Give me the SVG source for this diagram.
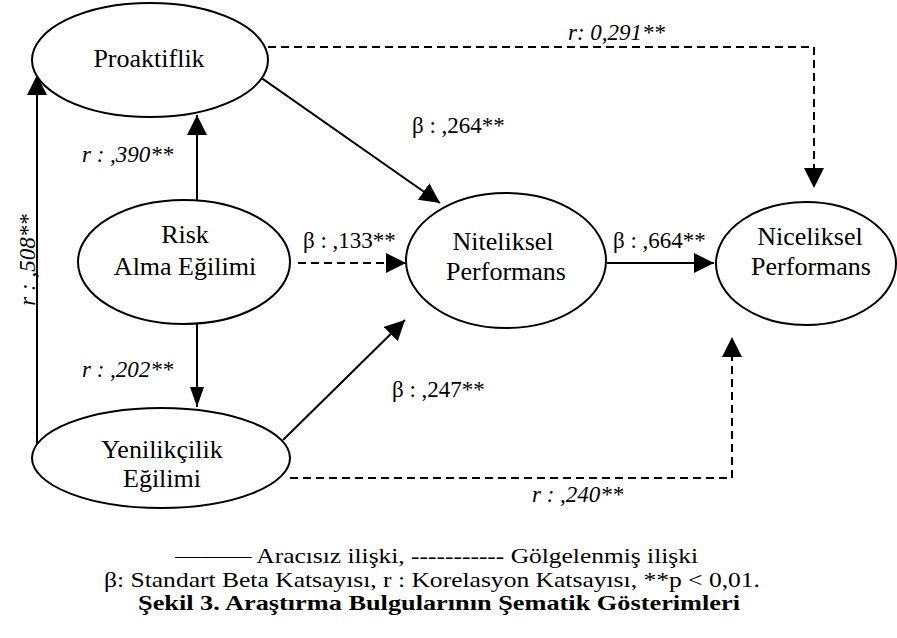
<svg xmlns="http://www.w3.org/2000/svg" width="897" height="638" viewBox="0 0 897 638">
<style>
.node ellipse{fill:#fff;stroke:#000;stroke-width:2}
.nt{font-family:"Liberation Serif","Times New Roman",serif;font-size:26px;text-anchor:middle;fill:#000}
.c{fill:none;stroke:#000;stroke-width:2}
.d{stroke-dasharray:8,5}
.lb{font-family:"Liberation Serif","Times New Roman",serif;font-size:23px;fill:#000}
.it{font-style:italic}
.lg{font-family:"Liberation Serif","Times New Roman",serif;font-size:21px;fill:#000}
</style>
<defs>
<marker id="ah" markerUnits="userSpaceOnUse" markerWidth="20" markerHeight="20" refX="20" refY="10" orient="auto">
<path d="M0,0 L20,10 L0,20 z" fill="#000"/>
</marker>
<marker id="ahs" markerUnits="userSpaceOnUse" markerWidth="20" markerHeight="14" refX="20" refY="7" orient="auto">
<path d="M0,0 L20,7 L0,14 z" fill="#000"/>
</marker>
</defs>
<g id="connectors">
<path class="c d" d="M268,47 H814 V188" marker-end="url(#ah)"/>
<path class="c" d="M243,65 L440,203" marker-end="url(#ah)"/>
<path class="c d" d="M298,263 H406" marker-end="url(#ah)"/>
<path class="c" d="M607,263 H714" marker-end="url(#ah)"/>
<path class="c" d="M283,440 L405,320" marker-end="url(#ah)"/>
<path class="c d" d="M290,478 H732 V337" marker-end="url(#ah)"/>
<path class="c" d="M197,200 V115" marker-end="url(#ah)"/>
<path class="c" d="M197,324 V407" marker-end="url(#ahs)"/>
<path class="c" d="M37,452 V75" marker-end="url(#ah)"/>
</g>
<g id="labels">
<text class="lb it" x="568" y="40">r: 0,291**</text>
<text class="lb" x="412" y="133">β : ,264**</text>
<text class="lb" x="303" y="248">β : ,133**</text>
<text class="lb" x="613" y="248">β : ,664**</text>
<text class="lb" x="392" y="397">β : ,247**</text>
<text class="lb it" x="532" y="502">r : ,240**</text>
<text class="lb it" x="82" y="162">r : ,390**</text>
<text class="lb it" x="82" y="377">r : ,202**</text>
<text class="lb it" transform="translate(35,260) rotate(-90)" text-anchor="middle">r : ,508**</text>
</g>
<g id="proaktiflik" class="node">
<ellipse cx="150" cy="60" rx="118" ry="57"/>
<text class="nt" x="149" y="67">Proaktiflik</text>
</g>
<g id="risk" class="node">
<ellipse cx="184" cy="262" rx="106" ry="62"/>
<text class="nt" x="185" y="243">Risk</text>
<text class="nt" x="185" y="275">Alma Eğilimi</text>
</g>
<g id="yenilikcilik" class="node">
<ellipse cx="161" cy="458" rx="129" ry="50"/>
<text class="nt" x="162" y="458">Yenilikçilik</text>
<text class="nt" x="162" y="487">Eğilimi</text>
</g>
<g id="niteliksel" class="node">
<ellipse cx="506" cy="260.5" rx="100" ry="67.5"/>
<text class="nt" x="503" y="250">Niteliksel</text>
<text class="nt" x="506" y="280">Performans</text>
</g>
<g id="niceliksel" class="node">
<ellipse cx="806" cy="263.5" rx="90" ry="61.5"/>
<text class="nt" x="810" y="245">Niceliksel</text>
<text class="nt" x="811" y="275">Performans</text>
</g>
<g id="legend">
<text class="lg" x="175" y="563" textLength="523" lengthAdjust="spacingAndGlyphs">——— Aracısız ilişki, ----------- Gölgelenmiş ilişki</text>
<text class="lg" x="104" y="587" textLength="656" lengthAdjust="spacingAndGlyphs">β: Standart Beta Katsayısı, r : Korelasyon Katsayısı, **p &lt; 0,01.</text>
<text class="lg" x="138" y="610" font-weight="bold" textLength="602" lengthAdjust="spacingAndGlyphs">Şekil 3. Araştırma Bulgularının Şematik Gösterimleri</text>
</g>
</svg>
